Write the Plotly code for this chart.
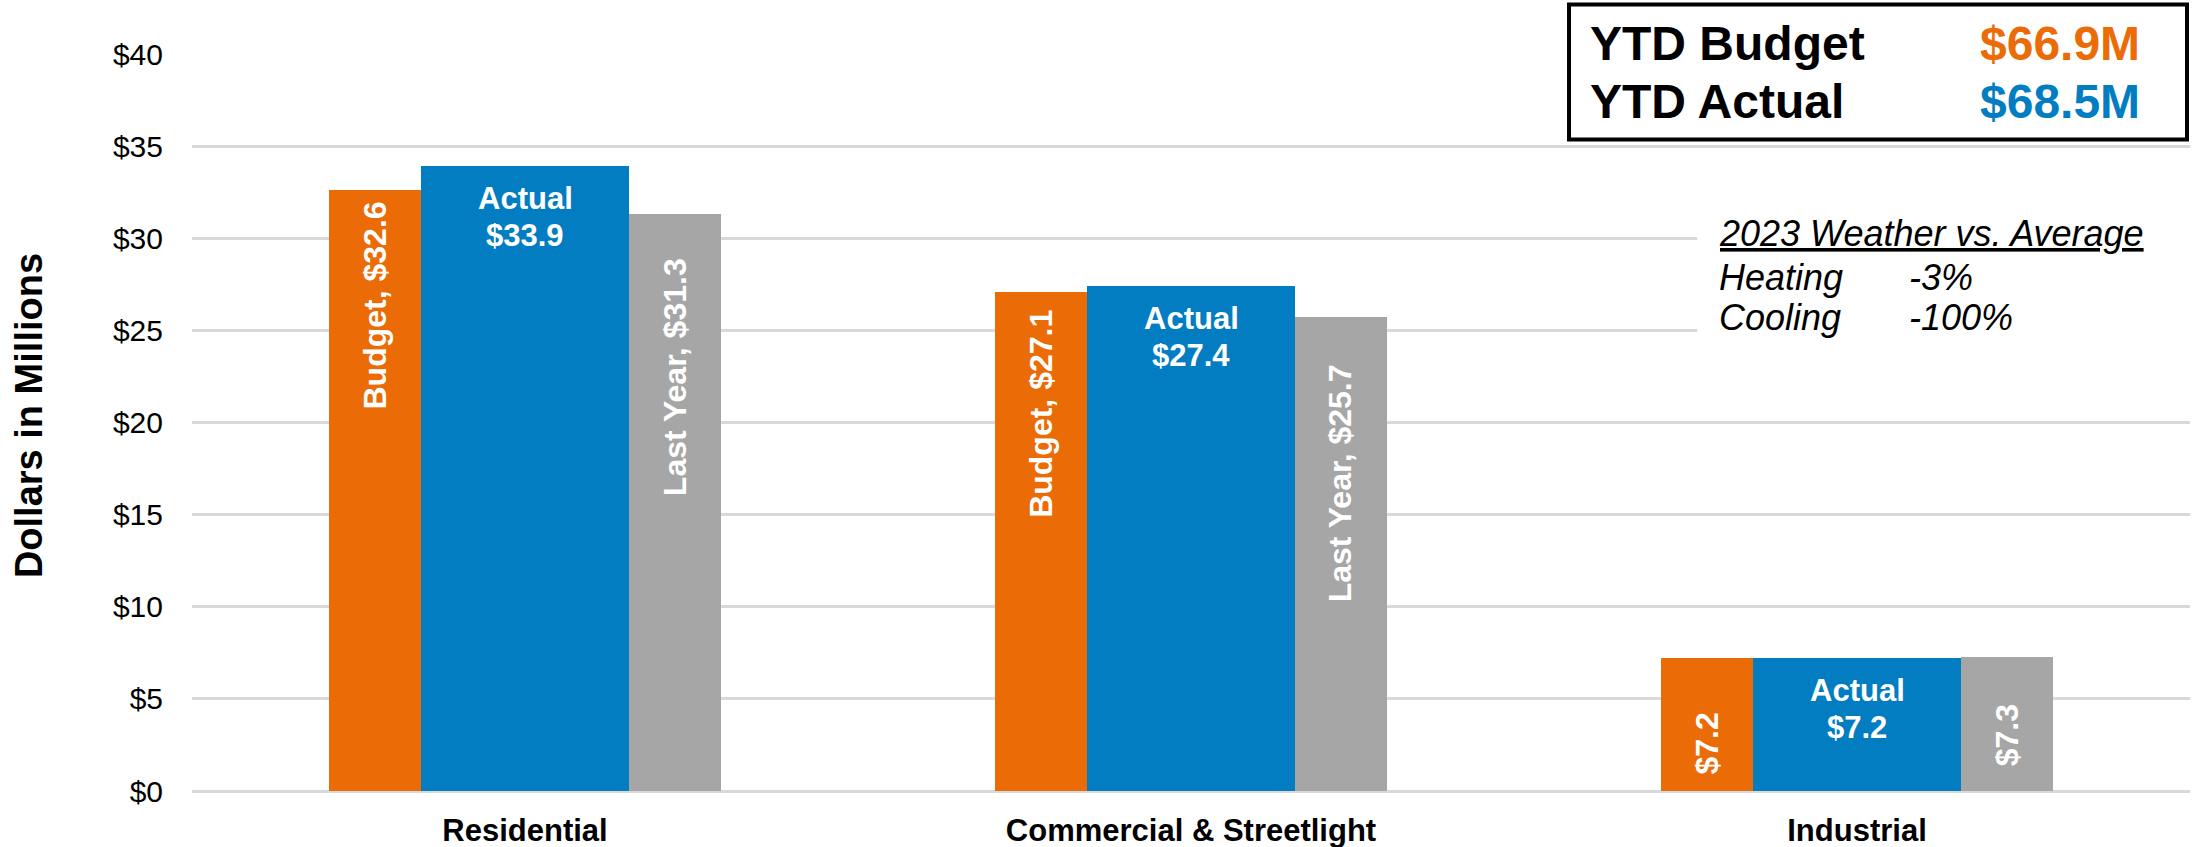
import plotly.graph_objects as go

# ---- data ----
categories = ["Residential", "Commercial & Streetlight", "Industrial"]
budget = [32.6, 27.1, 7.2]
actual = [33.9, 27.4, 7.2]
last_year = [31.3, 25.7, 7.3]
ytd_budget = "$66.9M"
ytd_actual = "$68.5M"
weather_rows = [("Heating", "-3%"), ("Cooling", "-100%")]
y_ticks = [0, 5, 10, 15, 20, 25, 30, 35, 40]

# ---- style ----
FONT = "Liberation Sans, Arial, sans-serif"
ORANGE = "#EB6C06"
BLUE = "#037DC1"
GRAY = "#A6A6A6"
GRID = "#D9D9D9"

W_SIDE, W_MID = 0.138, 0.312
OFF_B, OFF_A, OFF_L = -0.294, -0.156, 0.156
budget_gap = [9, 16, 52]
last_gap = [42, 45, 46]

x = list(range(len(categories)))

fig = go.Figure()
fig.add_trace(go.Bar(x=x, y=budget, width=[W_SIDE] * 3, offset=OFF_B,
                     marker=dict(color=ORANGE, line=dict(width=0)), name="Budget"))
fig.add_trace(go.Bar(x=x, y=actual, width=[W_MID] * 3, offset=OFF_A,
                     marker=dict(color=BLUE, line=dict(width=0)), name="Actual"))
fig.add_trace(go.Bar(x=x, y=last_year, width=[W_SIDE] * 3, offset=OFF_L,
                     marker=dict(color=GRAY, line=dict(width=0)), name="Last Year"))

ann = []
lab_font = dict(family=FONT, size=32, color="white")
for i, cat in enumerate(categories):
    short = cat == "Industrial"
    bt = f"${budget[i]:.1f}" if short else f"Budget, ${budget[i]:.1f}"
    lt = f"${last_year[i]:.1f}" if short else f"Last Year, ${last_year[i]:.1f}"
    ann.append(dict(x=i + OFF_B + W_SIDE / 2, y=budget[i], xref="x", yref="y",
                    text=f"<b>{bt}</b>", textangle=-90, showarrow=False,
                    xanchor="center", yanchor="top", yshift=-budget_gap[i], font=lab_font))
    ann.append(dict(x=i + OFF_L + W_SIDE / 2, y=last_year[i], xref="x", yref="y",
                    text=f"<b>{lt}</b>", textangle=-90, showarrow=False,
                    xanchor="center", yanchor="top", yshift=-last_gap[i], font=lab_font))
    ann.append(dict(x=i, y=actual[i], xref="x", yref="y", text="<b>Actual</b>",
                    showarrow=False, xanchor="center", yanchor="middle", yshift=-32,
                    font=dict(family=FONT, size=31, color="white")))
    ann.append(dict(x=i, y=actual[i], xref="x", yref="y", text=f"<b>${actual[i]:.1f}</b>",
                    showarrow=False, xanchor="center", yanchor="middle", yshift=-69,
                    font=dict(family=FONT, size=31, color="white")))

# y-axis title
ann.append(dict(x=-0.0816, y=0.51, xref="paper", yref="paper", text="<b>Dollars in Millions</b>",
                textangle=-90, showarrow=False, xanchor="center", yanchor="middle",
                font=dict(family=FONT, size=38, color="black")))

# YTD box texts
box_font = dict(family=FONT, size=48, color="black")
ann += [
    dict(x=0.6985, y=1.0149, xref="paper", yref="paper", text="<b>YTD Budget</b>",
         showarrow=False, xanchor="left", yanchor="middle", font=box_font),
    dict(x=0.6985, y=0.9362, xref="paper", yref="paper", text="<b>YTD Actual</b>",
         showarrow=False, xanchor="left", yanchor="middle", font=box_font),
    dict(x=0.8940, y=1.0149, xref="paper", yref="paper", text=f"<b>{ytd_budget}</b>",
         showarrow=False, xanchor="left", yanchor="middle", font=dict(family=FONT, size=48, color=ORANGE)),
    dict(x=0.8940, y=0.9362, xref="paper", yref="paper", text=f"<b>{ytd_actual}</b>",
         showarrow=False, xanchor="left", yanchor="middle", font=dict(family=FONT, size=48, color=BLUE)),
]

# weather text
w_font = dict(family=FONT, size=36, color="black")
ann.append(dict(x=0.7635, y=0.757, xref="paper", yref="paper",
                text="<i><u>2023 Weather vs. Average</u></i>", showarrow=False,
                xanchor="left", yanchor="middle", font=w_font))
for k, (lbl, val) in enumerate(weather_rows):
    yy = 0.6961 - k * 0.0543
    ann.append(dict(x=0.7635, y=yy, xref="paper", yref="paper", text=f"<i>{lbl}</i>",
                    showarrow=False, xanchor="left", yanchor="middle", font=w_font))
    ann.append(dict(x=0.8585, y=yy, xref="paper", yref="paper", text=f"<i>{val}</i>",
                    showarrow=False, xanchor="left", yanchor="middle", font=w_font))

shapes = [
    dict(type="rect", xref="paper", yref="paper", x0=0.7533, x1=1.0, y0=0.585, y1=0.8155,
         fillcolor="white", line=dict(width=0), layer="above"),
    dict(type="rect", xref="paper", yref="paper", x0=0.6892, x1=0.9985, y0=0.884, y1=1.067,
         fillcolor="white", line=dict(color="black", width=4), layer="above"),
]

fig.update_layout(
    width=2208, height=847, autosize=False,
    margin=dict(l=192, r=18, t=54, b=56, autoexpand=False),
    paper_bgcolor="white", plot_bgcolor="white",
    barmode="overlay", bargap=0, showlegend=False,
    font=dict(family=FONT, color="black"),
    annotations=ann, shapes=shapes,
    xaxis=dict(range=[-0.5, 2.5], tickmode="array", tickvals=x,
               ticktext=[f"<b>{c}</b>" for c in categories],
               tickfont=dict(family=FONT, size=31, color="black"),
               showgrid=False, zeroline=False, showline=False, ticks="",
               ticklabelstandoff=18, fixedrange=True, automargin=False),
    yaxis=dict(range=[0, 40], tickmode="array", tickvals=y_ticks,
               ticktext=[f"${v}" for v in y_ticks],
               tickfont=dict(family=FONT, size=30, color="black"),
               showgrid=True, gridcolor=GRID, gridwidth=2.5,
               zeroline=True, zerolinecolor=GRID, zerolinewidth=2.5,
               showline=False, ticks="", ticklabelstandoff=28, fixedrange=True,
               automargin=False),
)

# remove the default 8px page margin so the figure fills the window exactly
fig.write_html("out.html", config={"displayModeBar": False},
               post_script="document.body.style.margin='0px';")
